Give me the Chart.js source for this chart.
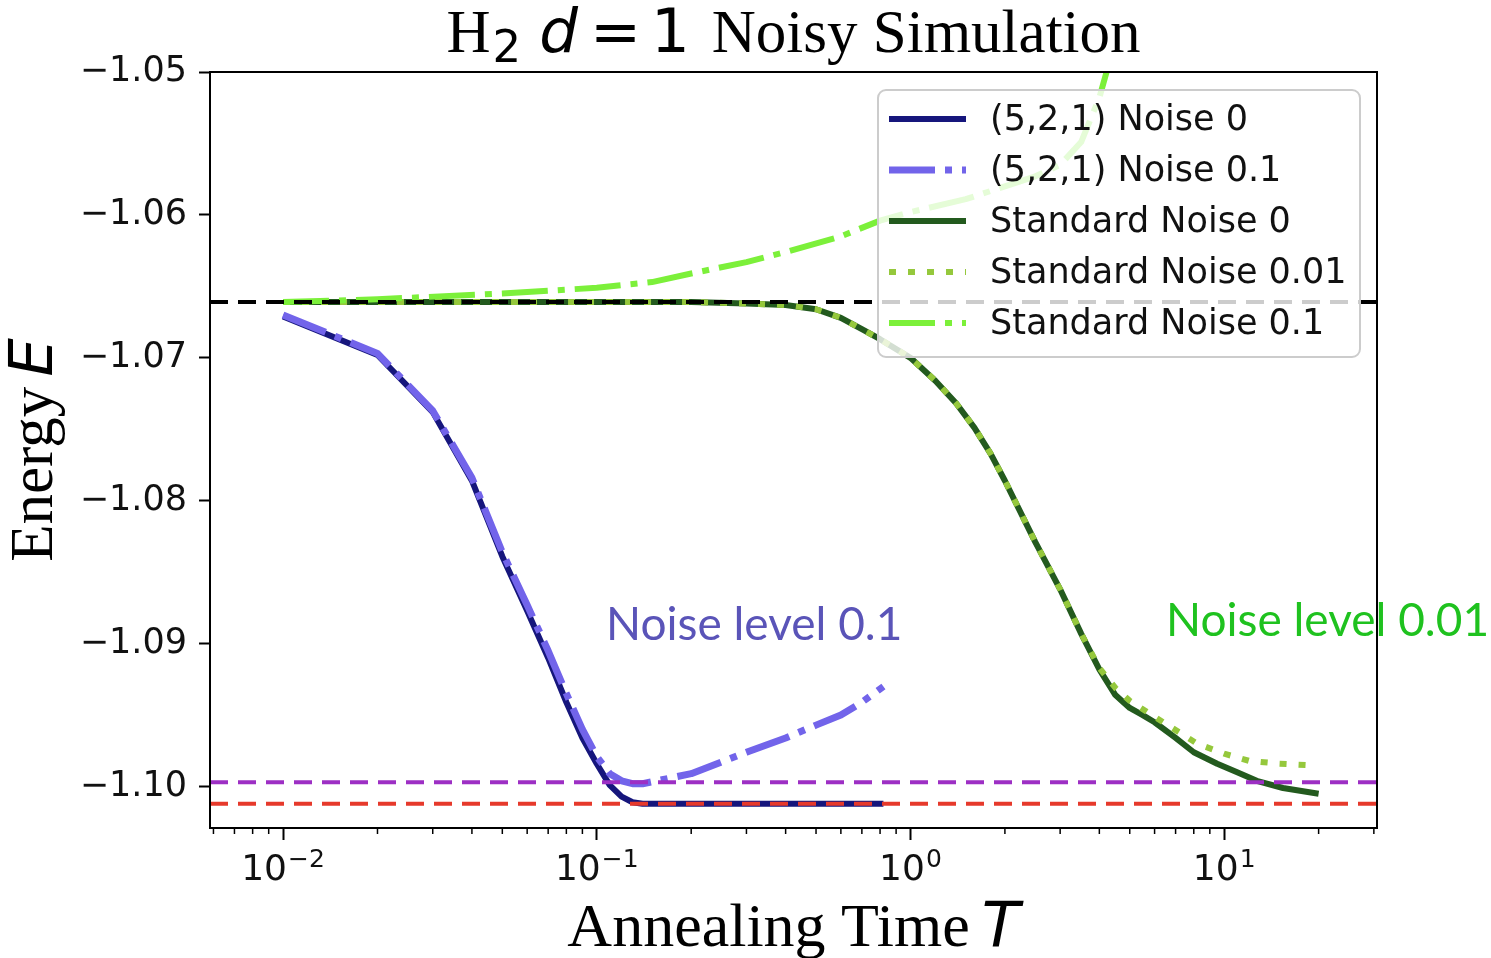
<!DOCTYPE html>
<html>
<head>
<meta charset="utf-8">
<title>H2 d=1 Noisy Simulation</title>
<script src="https://cdn.jsdelivr.net/npm/chart.js@4.4.1/dist/chart.umd.min.js"></script>
<style>
  html, body { margin: 0; padding: 0; background: #fff; }
  canvas { display: block; }
</style>
</head>
<body>
<canvas id="chartjs" width="1491" height="958"></canvas>
<script>
// (5,2,1) schedule runs
const timesCompact = [0.01, 0.02, 0.03, 0.04, 0.05, 0.06, 0.07, 0.08, 0.09, 0.1, 0.11, 0.12, 0.13, 0.14, 0.2, 0.3, 0.4, 0.5, 0.6, 0.7, 0.82];
const energyCompactNoise0 = [-1.0671, -1.0698, -1.0738, -1.0786, -1.0839, -1.0877, -1.0910, -1.0941, -1.0966, -1.0984, -1.0999, -1.1007, -1.1011, -1.1012, -1.1012, -1.1012, -1.1012, -1.1012, -1.1012, -1.1012, -1.1012];
const energyCompactNoise01 = [-1.0670, -1.0697, -1.0737, -1.0784, -1.0836, -1.0873, -1.0905, -1.0935, -1.0960, -1.0979, -1.0991, -1.0996, -1.0998, -1.0998, -1.0991, -1.0976, -1.0966, -1.0957, -1.0950, -1.0941, -1.0930];

// standard schedule runs
const timesStandard = [0.01, 0.02, 0.05, 0.1, 0.2, 0.3, 0.4, 0.5, 0.6, 0.7, 0.8, 1.0, 1.2, 1.4, 1.6, 1.8, 2.0, 2.5, 3.0, 3.5, 4.0, 4.5, 5.0, 5.5, 6.0, 7.0, 8.0, 9.5, 11, 12.7, 15.4, 20];
const energyStandardNoise0 = [-1.0661, -1.0661, -1.0661, -1.0661, -1.0661, -1.0662, -1.0663, -1.0666, -1.0672, -1.0680, -1.0687, -1.0700, -1.0716, -1.0732, -1.0749, -1.0767, -1.0786, -1.0829, -1.0862, -1.0893, -1.0918, -1.0936, -1.0945, -1.0950, -1.0955, -1.0966, -1.0976, -1.0984, -1.0990, -1.0996, -1.1001, -1.1005];
const timesStandardNoise001 = [0.01, 0.02, 0.05, 0.1, 0.2, 0.3, 0.4, 0.5, 0.6, 0.7, 0.8, 1.0, 1.2, 1.4, 1.6, 1.8, 2.0, 2.5, 3.0, 3.5, 4.0, 4.5, 5.0, 6.5, 8.2, 10, 12, 15, 18.5];
const energyStandardNoise001 = [-1.0661, -1.0661, -1.0661, -1.0661, -1.0661, -1.0662, -1.0663, -1.0666, -1.0672, -1.0680, -1.0687, -1.0700, -1.0716, -1.0732, -1.0749, -1.0767, -1.0786, -1.0829, -1.0862, -1.0893, -1.0917, -1.0931, -1.0940, -1.0956, -1.0970, -1.0977, -1.0982, -1.0984, -1.0985];
const timesStandardNoise01 = [0.01, 0.02, 0.05, 0.1, 0.15, 0.2, 0.3, 0.4, 0.6, 0.8, 1.0, 1.5, 2.0, 2.5, 3.0, 3.5, 4.0, 4.5];
const energyStandardNoise01 = [-1.0661, -1.0659, -1.0655, -1.0651, -1.0647, -1.0641, -1.0633, -1.0626, -1.0615, -1.0604, -1.0598, -1.0589, -1.0580, -1.0573, -1.0565, -1.0549, -1.0518, -1.0478];

// horizontal reference energies
const energyInitial = -1.0661;
const energyNoisyFloor = -1.0997;
const energyGround = -1.1012;

const xRange = [0.00585, 30.7];
const yRange = [-1.1029, -1.05];
const xTicks = [0.01, 0.1, 1, 10];
const yTicks = [-1.10, -1.09, -1.08, -1.07, -1.06, -1.05];

const toPoints = (xs, ys) => xs.map((x, i) => ({ x, y: ys[i] }));

const curve = (label, xs, ys, color, width, dash, order) => ({
  label,
  data: toPoints(xs, ys),
  borderColor: color,
  borderWidth: width,
  borderDash: dash,
  borderCapStyle: "butt",
  borderJoinStyle: "round",
  pointRadius: 0,
  tension: 0,
  clip: 0,
  order,
  inLegend: true
});

const refLine = (y, color, order) => ({
  data: toPoints(xRange, [y, y]),
  borderColor: color,
  borderWidth: 4,
  borderDash: [18, 10],
  borderCapStyle: "butt",
  pointRadius: 0,
  clip: 0,
  order,
  inLegend: false
});

const serif = (px) => px + 'px "Liberation Serif"';
const sans = (px) => px + 'px "DejaVu Sans"';
const sansItalic = (px) => 'italic ' + px + 'px "DejaVu Sans"';

// mixed-font text runs: [text, font, gapBefore, dy]
const runsWidth = (ctx, runs) => runs.reduce((w, [t, f, gap]) => {
  ctx.font = f;
  return w + (gap || 0) + ctx.measureText(t).width;
}, 0);

const drawRuns = (ctx, runs, cx, baseline) => {
  let x = cx - runsWidth(ctx, runs) / 2;
  runs.forEach(([t, f, gap, dy]) => {
    ctx.font = f;
    x += gap || 0;
    ctx.fillText(t, x, baseline + (dy || 0));
    x += ctx.measureText(t).width;
  });
};

const decorations = {
  id: "decorations",
  afterDatasetsDraw(chart) {
    const { ctx, chartArea: a } = chart;
    const xs = chart.scales.x;
    ctx.save();

    // minor log ticks
    ctx.strokeStyle = "#000";
    ctx.lineWidth = 1.5;
    for (let e = -3; e <= 1; e++) {
      for (let m = 2; m <= 9; m++) {
        const v = m * Math.pow(10, e);
        if (v < xRange[0] || v > xRange[1]) continue;
        const px = xs.getPixelForValue(v);
        ctx.beginPath();
        ctx.moveTo(px, a.bottom);
        ctx.lineTo(px, a.bottom + 6);
        ctx.stroke();
      }
    }

    // decade labels 10^n
    ctx.fillStyle = "#111";
    ctx.textBaseline = "alphabetic";
    xTicks.forEach((v) => {
      const exp = String(Math.round(Math.log10(v))).replace("-", "\u2212");
      const runs = [["10", sans(36)], [exp, sans(25), 1, -13]];
      drawRuns(ctx, runs, xs.getPixelForValue(v), a.bottom + 52);
    });

    // axes frame
    ctx.lineWidth = 2;
    ctx.strokeRect(a.left, a.top, a.right - a.left, a.bottom - a.top);

    // legend box, top right inside the axes
    const bx = a.right - 499, by = a.top + 18, bw = 482, bh = 267, r = 8;
    ctx.beginPath();
    ctx.moveTo(bx + r, by);
    ctx.arcTo(bx + bw, by, bx + bw, by + bh, r);
    ctx.arcTo(bx + bw, by + bh, bx, by + bh, r);
    ctx.arcTo(bx, by + bh, bx, by, r);
    ctx.arcTo(bx, by, bx + bw, by, r);
    ctx.closePath();
    ctx.fillStyle = "rgba(255,255,255,0.8)";
    ctx.fill();
    ctx.strokeStyle = "#cccccc";
    ctx.lineWidth = 2;
    ctx.stroke();

    const items = chart.data.datasets.filter((d) => d.inLegend);
    ctx.font = sans(35);
    ctx.textBaseline = "middle";
    items.forEach((d, i) => {
      const y = by + 29 + i * 51;
      ctx.save();
      ctx.strokeStyle = d.borderColor;
      ctx.lineWidth = d.borderWidth;
      ctx.lineCap = "butt";
      ctx.setLineDash(d.borderDash || []);
      ctx.beginPath();
      ctx.moveTo(bx + 11, y);
      ctx.lineTo(bx + 88, y);
      ctx.stroke();
      ctx.restore();
      ctx.fillStyle = "#111";
      ctx.fillText(d.label, bx + 112, y + 2);
    });
    ctx.restore();
  },
  afterDraw(chart) {
    const { ctx, chartArea: a } = chart;
    const cx = (a.left + a.right) / 2;
    const cy = (a.top + a.bottom) / 2;
    ctx.save();
    ctx.fillStyle = "#000";
    ctx.textBaseline = "alphabetic";

    drawRuns(ctx, [
      ["H", serif(61)],
      ["2", sans(45), 2, 10],
      ["d", sansItalic(61), 18],
      ["=", sans(61), 12],
      ["1", sans(61), 10],
      ["Noisy Simulation", serif(61), 22]
    ], cx, 52);

    drawRuns(ctx, [
      ["Annealing Time", serif(62)],
      ["T", sansItalic(62), 12]
    ], cx, 946);

    ctx.save();
    ctx.translate(52, cy);
    ctx.rotate(-Math.PI / 2);
    drawRuns(ctx, [
      ["Energy", serif(61)],
      ["E", sansItalic(61), 10]
    ], 0, 0);
    ctx.restore();

    ctx.font = '46px "Lato"';
    ctx.fillStyle = "#5a54b8";
    ctx.fillText("Noise level 0.1", 606, 640);
    ctx.fillStyle = "#1fc21f";
    ctx.fillText("Noise level 0.01", 1166, 636);
    ctx.restore();
  }
};

const initChart = () => {
  const chartElem = document.getElementById("chartjs");
  new Chart(chartElem, {
    type: "line",
    data: {
      datasets: [
        curve("(5,2,1) Noise 0", timesCompact, energyCompactNoise0, "#16167c", 6, [], 6),
        curve("(5,2,1) Noise 0.1", timesCompact, energyCompactNoise01, "#7264ea", 7, [46, 10, 7, 10], 5),
        curve("Standard Noise 0", timesStandard, energyStandardNoise0, "#235a1e", 6, [], 4),
        curve("Standard Noise 0.01", timesStandardNoise001, energyStandardNoise001, "#95c83c", 6, [7, 12], 3),
        curve("Standard Noise 0.1", timesStandardNoise01, energyStandardNoise01, "#7cf03a", 6, [46, 10, 7, 10], 2),
        refLine(energyInitial, "#000000", 1),
        refLine(energyNoisyFloor, "#9d2fc4", 1),
        refLine(energyGround, "#e6392b", 1)
      ]
    },
    options: {
      responsive: false,
      animation: false,
      devicePixelRatio: 1,
      layout: { padding: { top: 72, right: 114, bottom: 0, left: 0 } },
      scales: {
        x: {
          type: "logarithmic",
          min: xRange[0],
          max: xRange[1],
          afterFit: (scale) => { scale.height = 130; },
          afterBuildTicks: (scale) => { scale.ticks = xTicks.map((value) => ({ value })); },
          grid: { drawOnChartArea: false, tickLength: 12, tickWidth: 2, tickColor: "#000" },
          border: { color: "#000", width: 2 },
          ticks: { display: false }
        },
        y: {
          min: yRange[0],
          max: yRange[1],
          afterFit: (scale) => { scale.width = 210; },
          afterBuildTicks: (scale) => { scale.ticks = yTicks.map((value) => ({ value })); },
          grid: { drawOnChartArea: false, tickLength: 11, tickWidth: 2, tickColor: "#000" },
          border: { color: "#000", width: 2 },
          ticks: {
            padding: 12,
            color: "#111",
            font: { family: "DejaVu Sans", size: 35 },
            callback: (v) => "\u2212" + Math.abs(v).toFixed(2)
          }
        }
      },
      plugins: {
        legend: { display: false },
        tooltip: { enabled: false }
      }
    },
    plugins: [decorations]
  });
};

initChart();
</script>
</body>
</html>
